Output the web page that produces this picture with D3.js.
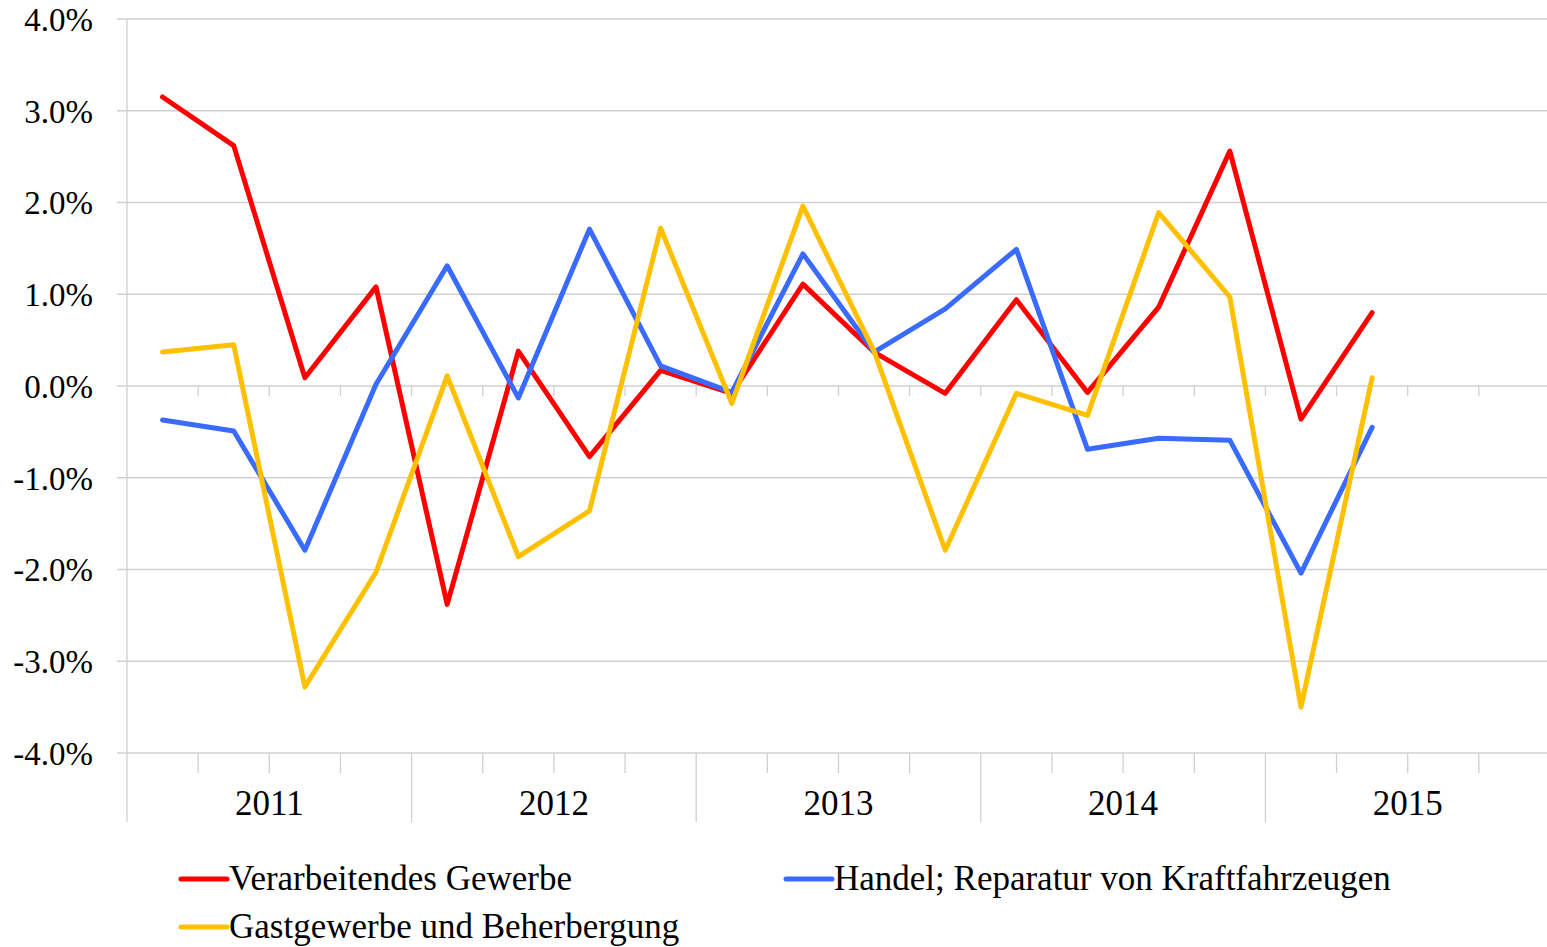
<!DOCTYPE html>
<html>
<head>
<meta charset="utf-8">
<script src="https://cdn.jsdelivr.net/npm/d3@7"></script>
<style>
  body { margin: 0; background: #fff; }
  svg { display: block; font-family: "Liberation Serif", "Times New Roman", serif; }
</style>
</head>
<body>
<div id="chart"></div>
<script>
// quarterly change rates, 2011 Q1 – 2015 Q2 (axis runs to 2015 Q4)
const years = ['2011', '2012', '2013', '2014', '2015'];
const quarters = years.flatMap(y => ['Q1', 'Q2', 'Q3', 'Q4'].map(q => `${y} ${q}`));

const verarbeitendes = [3.15, 2.62, 0.09, 1.08, -2.38, 0.38, -0.77, 0.17, -0.08, 1.11, 0.37, -0.08, 0.94, -0.07, 0.86, 2.56, -0.36, 0.80];
const handel = [-0.37, -0.49, -1.79, 0.02, 1.31, -0.13, 1.71, 0.22, -0.07, 1.44, 0.37, 0.84, 1.49, -0.69, -0.57, -0.59, -2.04, -0.45];
const gastgewerbe = [0.37, 0.45, -3.28, -2.03, 0.11, -1.86, -1.36, 1.72, -0.19, 1.96, 0.38, -1.79, -0.08, -0.32, 1.89, 0.97, -3.50, 0.09];

const yTicks = [-4, -3, -2, -1, 0, 1, 2, 3, 4];

const series = [
    { name: 'Verarbeitendes Gewerbe', color: '#ff0000', values: verarbeitendes },
    { name: 'Handel; Reparatur von Kraftfahrzeugen', color: '#3a6bff', values: handel },
    { name: 'Gastgewerbe und Beherbergung', color: '#ffc000', values: gastgewerbe }
];

const width = 1547, height = 947;
const margin = { top: 19, right: -3, bottom: 194, left: 127 };
const gridColor = '#d0d0d0';

const svg = d3.select('#chart').append('svg')
    .attr('width', width)
    .attr('height', height);

const x = d3.scaleBand()
    .domain(quarters)
    .range([margin.left, width - margin.right]);

const y = d3.scaleLinear()
    .domain([-4, 4])
    .range([height - margin.bottom, margin.top]);

// horizontal gridlines + left ticks
svg.append('g')
    .selectAll('line')
    .data(yTicks)
    .join('line')
    .attr('x1', margin.left - 10)
    .attr('x2', width)
    .attr('y1', d => y(d))
    .attr('y2', d => y(d))
    .attr('stroke', gridColor)
    .attr('stroke-width', 1.3);

svg.append('g')
    .selectAll('text')
    .data(yTicks)
    .join('text')
    .attr('x', 93)
    .attr('y', d => y(d))
    .attr('dy', '0.36em')
    .attr('text-anchor', 'end')
    .attr('font-size', '33px')
    .attr('fill', '#000')
    .text(d => d.toFixed(1) + '%');

// vertical axis line
svg.append('line')
    .attr('x1', margin.left).attr('x2', margin.left)
    .attr('y1', margin.top).attr('y2', 822)
    .attr('stroke', gridColor)
    .attr('stroke-width', 1.3);

// category ticks at quarter boundaries
const boundaries = quarters.map(q => x(q)).concat([x.range()[1]]);
const bottomY = y(-4);

boundaries.forEach((bx, i) => {
    if (i === 0) return;
    const yearEdge = i % 4 === 0;
    svg.append('line')
        .attr('x1', bx).attr('x2', bx)
        .attr('y1', bottomY).attr('y2', yearEdge ? 822 : bottomY + 20)
        .attr('stroke', gridColor)
        .attr('stroke-width', 1.3);
    svg.append('line')
        .attr('x1', bx).attr('x2', bx)
        .attr('y1', y(0)).attr('y2', y(0) + 10)
        .attr('stroke', gridColor)
        .attr('stroke-width', 1.3);
});

// year labels, centred under their four quarters
svg.append('g')
    .selectAll('text')
    .data(years)
    .join('text')
    .attr('x', d => x(`${d} Q1`) + x.bandwidth() * 2)
    .attr('y', 815)
    .attr('text-anchor', 'middle')
    .attr('font-size', '35px')
    .attr('fill', '#000')
    .text(d => d);

// lines
const line = d3.line()
    .x((d, i) => x(quarters[i]) + x.bandwidth() / 2)
    .y(d => y(d));

series.forEach(s => {
    svg.append('path')
        .datum(s.values)
        .attr('d', line)
        .attr('fill', 'none')
        .attr('stroke', s.color)
        .attr('stroke-width', 5)
        .attr('stroke-linejoin', 'round')
        .attr('stroke-linecap', 'round');
});

// legend
const legendPos = [
    { x: 181, y: 879 },
    { x: 786, y: 879 },
    { x: 181, y: 927 }
];

series.forEach((s, i) => {
    const p = legendPos[i];
    svg.append('line')
        .attr('x1', p.x).attr('x2', p.x + 46)
        .attr('y1', p.y).attr('y2', p.y)
        .attr('stroke', s.color)
        .attr('stroke-width', 5)
        .attr('stroke-linecap', 'round');
    svg.append('text')
        .attr('x', p.x + 48)
        .attr('y', p.y)
        .attr('dy', '0.32em')
        .attr('font-size', '35px')
        .attr('fill', '#000')
        .text(s.name);
});
</script>
</body>
</html>
